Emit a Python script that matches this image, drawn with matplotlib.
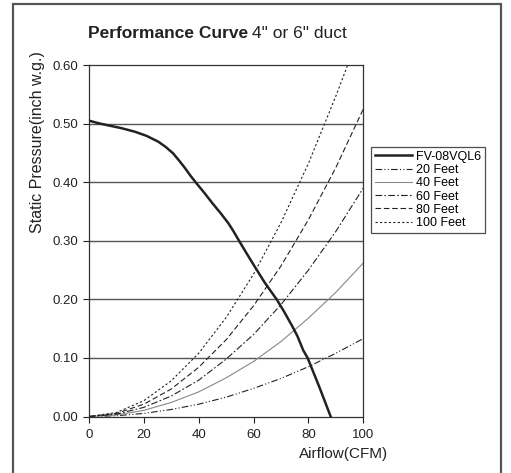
import numpy as np
import matplotlib
matplotlib.use("Agg")
import matplotlib.pyplot as plt
from matplotlib.patches import Rectangle

plt.rcParams['font.family'] = ['Liberation Sans', 'DejaVu Sans']

# fan curve
fan_cfm = [0, 4, 8, 12, 16.8, 21, 25.3, 28, 30.7, 33, 35, 37, 39.2, 42, 45, 48,
           50.8, 52.7, 54.7, 57, 60, 64, 68.4, 71, 74, 76, 78.1, 79.7, 84, 88.1]
fan_sp = [0.505, 0.500, 0.496, 0.492, 0.486, 0.479, 0.469, 0.460, 0.449, 0.436,
          0.424, 0.411, 0.398, 0.382, 0.364, 0.347, 0.330, 0.316, 0.300, 0.282,
          0.259, 0.229, 0.200, 0.180, 0.155, 0.137, 0.113, 0.100, 0.050, 0.000]

# duct system curves
duct_cfm = [0, 10, 20, 30, 40, 50, 60, 70, 80, 90, 100]
sp_20 = [0, 0.0013, 0.0053, 0.012, 0.021, 0.033, 0.048, 0.065, 0.085, 0.108, 0.133]
sp_40 = [0, 0.0026, 0.0105, 0.024, 0.042, 0.066, 0.094, 0.128, 0.168, 0.212, 0.262]
sp_60 = [0, 0.0039, 0.0156, 0.035, 0.062, 0.098, 0.140, 0.191, 0.250, 0.316, 0.390]
sp_80 = [0, 0.0053, 0.021, 0.047, 0.084, 0.131, 0.189, 0.257, 0.336, 0.425, 0.525]
cfm_100 = [0, 10, 20, 30, 40, 50, 60, 70, 80, 90, 94.3]
sp_100 = [0, 0.0068, 0.027, 0.061, 0.108, 0.169, 0.243, 0.331, 0.432, 0.547, 0.600]

x_ticks = [0, 20, 40, 60, 80, 100]
y_ticks = [0.0, 0.1, 0.2, 0.3, 0.4, 0.5, 0.6]

fig = plt.figure(figsize=(5.11, 4.73), dpi=100)
fig.patches.append(Rectangle((13 / 511, -0.05), (501 - 13) / 511, 1 - 4 / 473 + 0.05,
                             transform=fig.transFigure, fill=False,
                             edgecolor='#555555', linewidth=1.6))

ax = fig.add_axes([89 / 511, 1 - 416.5 / 473, (363.3 - 89) / 511, (416.5 - 65) / 473])

for y in y_ticks[1:-1]:
    ax.axhline(y, color='#555555', linewidth=1.0, zorder=1)

ax.plot(fan_cfm, fan_sp, color='#222222', linewidth=1.8, label='FV-08VQL6', zorder=5)
ax.plot(duct_cfm, sp_20, color='#222222', linewidth=0.8, dashes=(6, 2, 1, 2, 1, 2), label='20 Feet')
ax.plot(duct_cfm, sp_40, color='#888888', linewidth=0.8, label='40 Feet')
ax.plot(duct_cfm, sp_60, color='#222222', linewidth=0.8, dashes=(6, 2, 1.5, 2), label='60 Feet')
ax.plot(duct_cfm, sp_80, color='#222222', linewidth=0.8, dashes=(5, 2.5), label='80 Feet')
ax.plot(cfm_100, sp_100, color='#222222', linewidth=0.8, dashes=(2, 2), label='100 Feet')

ax.set_xlim(0, 100)
ax.set_ylim(0, 0.6)
ax.set_xticks(x_ticks)
ax.set_yticks(y_ticks)
ax.set_yticklabels(['%.2f' % v for v in y_ticks])
ax.tick_params(direction='out', length=4, width=0.8, labelsize=9.5, colors='#222222')
ax.tick_params(axis='x', pad=5)
for s in ax.spines.values():
    s.set_color('#333333')
    s.set_linewidth(0.9)

fig.text(38 / 511, 1 - 142 / 473, 'Static Pressure(inch w.g.)', rotation=90,
         ha='center', va='center', fontsize=11.5, color='#222222')
fig.text(388 / 511, 1 - 454 / 473, 'Airflow(CFM)', ha='right', va='center',
         fontsize=11, color='#222222')
t1 = fig.text(88 / 511, 1 - 33 / 473, 'Performance Curve', fontweight='bold',
              ha='left', va='center', fontsize=12.5, color='#222222')
fig.canvas.draw()
bb = t1.get_window_extent()
fig.text(bb.x1 / fig.bbox.width + 4 / 511, 1 - 33 / 473, '4" or 6" duct',
         ha='left', va='center', fontsize=12.5, color='#222222')

leg = fig.legend(loc='upper left', bbox_to_anchor=(371 / 511, 1 - 147 / 473),
                 fontsize=9, frameon=True, fancybox=False, handlelength=3.0,
                 handletextpad=0.3, borderpad=0.3, labelspacing=0.1,
                 borderaxespad=0)
leg.get_frame().set_edgecolor('#222222')
leg.get_frame().set_linewidth(0.9)

fig.savefig('out.png', dpi=100)
